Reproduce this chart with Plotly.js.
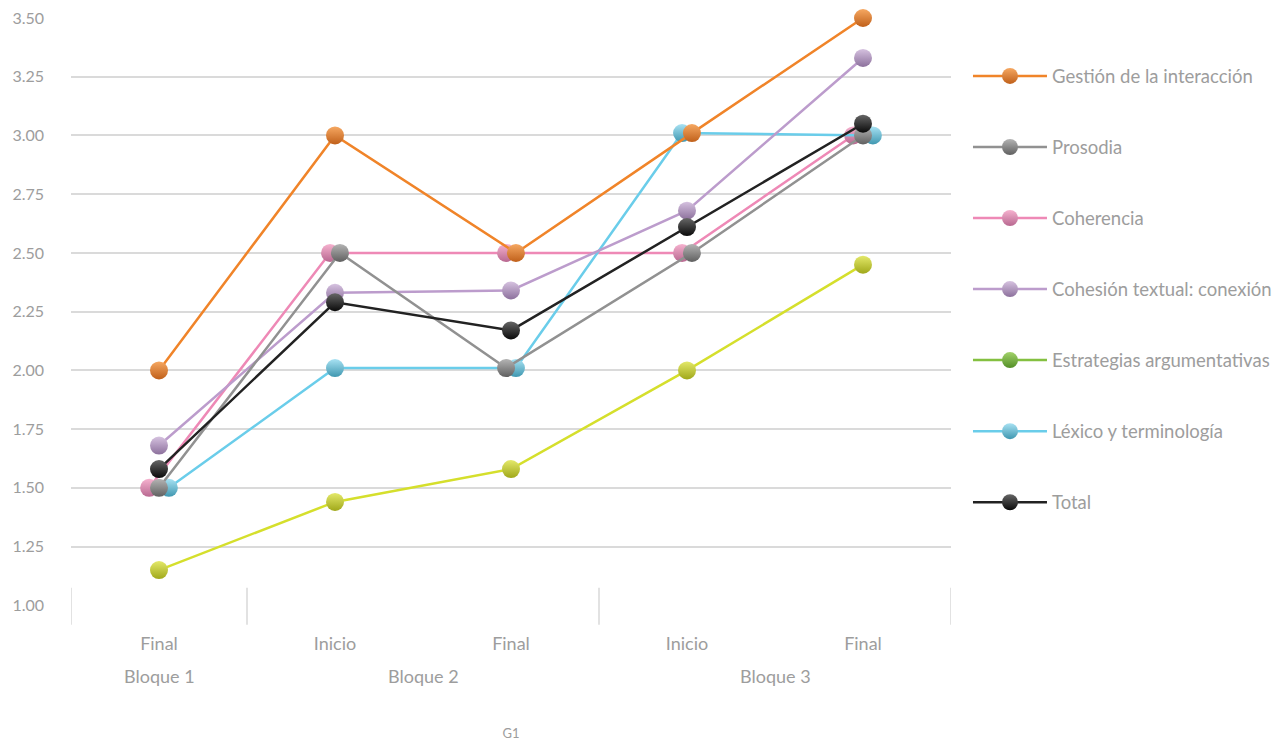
<!DOCTYPE html>
<html>
<head>
<meta charset="utf-8">
<script src="https://cdn.plot.ly/plotly-3.0.1.min.js"></script>
<style>html,body{margin:0;padding:0;background:#fff;}#chart{width:1285px;height:742px;}</style>
</head>
<body>
<div id="chart"></div>
<script>
// ---- data ----
const categories = ['Final', 'Inicio', 'Final', 'Inicio', 'Final'];
const groups = ['Bloque 1', 'Bloque 2', 'Bloque 2', 'Bloque 3', 'Bloque 3'];
const yTicks = [1.00, 1.25, 1.50, 1.75, 2.00, 2.25, 2.50, 2.75, 3.00, 3.25, 3.50];

const gestion     = [2.00, 3.00, 2.50, 3.01, 3.50];
const prosodia    = [1.50, 2.50, 2.01, 2.50, 3.00];
const coherencia  = [1.50, 2.50, 2.50, 2.50, 3.00];
const cohesion    = [1.68, 2.33, 2.34, 2.68, 3.33];
const estrategias = [1.15, 1.44, 1.58, 2.00, 2.45];
const lexico      = [1.50, 2.01, 2.01, 3.01, 3.00];
const total       = [1.58, 2.29, 2.17, 2.61, 3.05];

const seriesNames = ['Gestión de la interacción', 'Prosodia', 'Coherencia', 'Cohesión textual: conexión',
                     'Estrategias argumentativas', 'Léxico y terminología', 'Total'];
const seriesValues = [gestion, prosodia, coherencia, cohesion, estrategias, lexico, total];

// ---- styles ----
const styles = [
  {line: '#F08429', c: '#F6A862', e: '#C0601A'},
  {line: '#919191', c: '#B4B4B4', e: '#606060'},
  {line: '#EE89B6', c: '#F6B2CF', e: '#B86890'},
  {line: '#BC9CCC', c: '#D6C2E0', e: '#8C709C'},
  {line: '#D5DF2C', c: '#E4E96A', e: '#A0A81A', legLine: '#84C040', legC: '#A2D26A', legE: '#528E26'},
  {line: '#6ACDEA', c: '#A8E2F3', e: '#3F97B0'},
  {line: '#222222', c: '#666666', e: '#0A0A0A'}
];
// drawing order (later = on top)
const drawOrder = [2, 5, 3, 4, 0, 1, 6];
// left-to-right order when markers share a value
const spreadOrder = [2, 1, 5, 0, 3, 4, 6];
const step = 0.056;

// compute x offsets for overlapping points
const xs = seriesValues.map(v => v.map((_, j) => j));
for (let j = 0; j < categories.length; j++) {
  const used = new Set();
  for (const a of spreadOrder) {
    if (used.has(a)) continue;
    const grp = spreadOrder.filter(b => !used.has(b) && Math.abs(seriesValues[b][j] - seriesValues[a][j]) < 0.015);
    grp.forEach(b => used.add(b));
    if (grp.length > 1) {
      grp.forEach((b, i) => { xs[b][j] = j + (i - (grp.length - 1) / 2) * step; });
    }
  }
}

const traces = [];
drawOrder.forEach(i => {
  const s = styles[i];
  const hasLeg = !!s.legLine;
  traces.push({
    type: 'scatter', mode: 'lines+markers',
    name: seriesNames[i],
    x: xs[i], y: seriesValues[i],
    line: {color: s.line, width: 2.5},
    marker: {size: 18, color: s.c, gradient: {type: 'vertical', color: s.e}, line: {width: 0}},
    cliponaxis: false,
    showlegend: !hasLeg,
    legendrank: i + 1,
    legendgroup: 'g' + i,
    hoverinfo: 'name+y'
  });
  if (hasLeg) {
    traces.push({
      type: 'scatter', mode: 'lines+markers',
      name: seriesNames[i],
      x: [null], y: [null],
      line: {color: s.legLine, width: 2.5},
      marker: {size: 18, color: s.legC, gradient: {type: 'vertical', color: s.legE}, line: {width: 0}},
      showlegend: true,
      legendrank: i + 1,
      legendgroup: 'g' + i,
      hoverinfo: 'skip'
    });
  }
});

// group labels & dividers
const annotations = [];
const shapes = [];
const uniqueGroups = [...new Set(groups)];
uniqueGroups.forEach(g => {
  const idx = groups.map((v, k) => v === g ? k : -1).filter(k => k >= 0);
  const mid = (idx[0] + idx[idx.length - 1]) / 2;
  annotations.push({
    x: mid, xref: 'x', y: -0.119, yref: 'paper', text: g, showarrow: false,
    font: {size: 18, color: '#9d9d9d'}, xanchor: 'center', yanchor: 'middle'
  });
  shapes.push({type: 'line', xref: 'x', yref: 'paper', x0: idx[0] - 0.5, x1: idx[0] - 0.5,
    y0: -0.032, y1: 0.031, line: {color: '#d9d9d9', width: 1.5}});
});
shapes.push({type: 'line', xref: 'x', yref: 'paper', x0: categories.length - 0.5, x1: categories.length - 0.5,
  y0: -0.032, y1: 0.031, line: {color: '#d9d9d9', width: 1.5}});

const layout = {
  width: 1285, height: 742,
  margin: {l: 71, r: 334, t: 18, b: 136, autoexpand: false},
  paper_bgcolor: '#ffffff', plot_bgcolor: '#ffffff',
  font: {family: 'Lato, "Open Sans", sans-serif', color: '#9d9d9d', size: 16},
  xaxis: {
    range: [-0.5, categories.length - 0.5],
    tickvals: categories.map((_, k) => k), ticktext: categories,
    showgrid: false, zeroline: false, showline: false, ticks: '',
    ticklabelstandoff: 25, tickfont: {size: 18, color: '#9d9d9d'}
  },
  yaxis: {
    range: [0.997, 3.5],
    tickvals: yTicks, ticktext: yTicks.map(v => v.toFixed(2)),
    gridcolor: '#dadada', gridwidth: 1.5, zeroline: false, showline: false, ticks: '',
    ticklabelstandoff: 26, tickfont: {size: 16, color: '#9d9d9d'}
  },
  showlegend: true,
  legend: {
    x: 1.0193, xanchor: 'left', y: 0.933, yanchor: 'top',
    font: {size: 18.5, color: '#9d9d9d'},
    tracegroupgap: 44, itemwidth: 74, bgcolor: 'rgba(0,0,0,0)',
    traceorder: 'grouped'
  },
  title: {text: 'G1', font: {size: 13, color: '#9d9d9d'}, x: 0.5, xref: 'paper', xanchor: 'center',
    y: 0.012, yref: 'container', yanchor: 'middle'},
  annotations: annotations,
  shapes: shapes,
  hovermode: 'closest'
};

Plotly.newPlot('chart', traces, layout, {displayModeBar: false});
</script>
</body>
</html>
